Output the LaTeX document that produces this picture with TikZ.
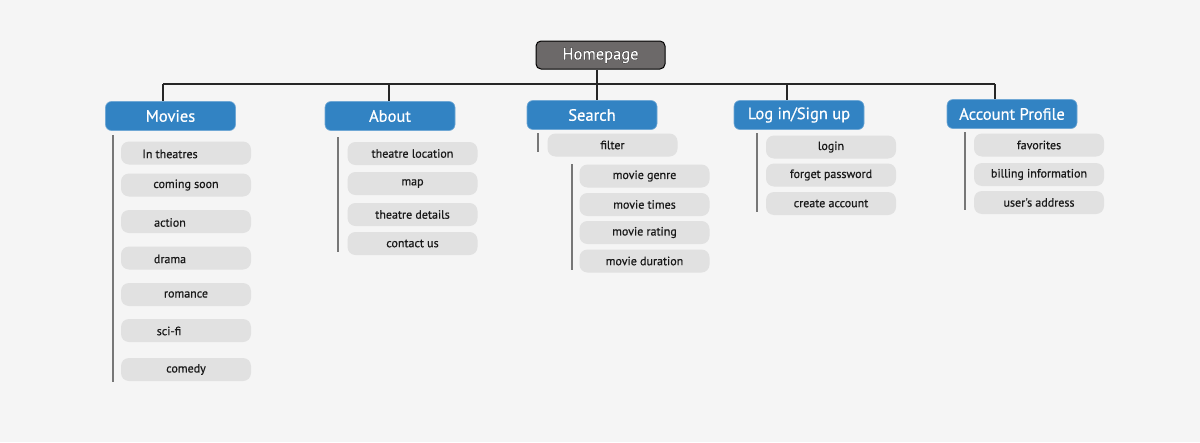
\documentclass[tikz,border=0pt]{standalone}
\usepackage{fontspec}
\setmainfont{PT Sans}
\newfontfamily\heavy[FakeBold=0.6]{PT Sans}
\newfontfamily\outl[FakeBold=4]{PT Sans}
\newfontfamily\homefont[FakeBold=0.8]{PT Sans}
\definecolor{bg}{HTML}{F5F5F5}
\definecolor{blueb}{HTML}{3283C3}
\definecolor{itemg}{HTML}{E1E1E1}
\definecolor{homeg}{HTML}{6C6969}
\definecolor{barg}{HTML}{777777}
\begin{document}
\begin{tikzpicture}[x=1pt,y=-1pt,
  home/.style={draw=black,line width=1pt,fill=homeg,rounded corners=5pt,minimum width=129pt,minimum height=28pt,inner sep=0pt},
  hometxt/.style={inner sep=0pt,font=\fontsize{16.5}{16}\selectfont},
  cat/.style={draw=blueb!70!white,line width=0.6pt,fill=blueb,rounded corners=6pt,minimum width=130pt,minimum height=29pt,inner sep=0pt,text=white,font=\heavy\fontsize{16.5}{16}\selectfont},
  item/.style={fill=itemg,rounded corners=8pt,minimum width=130pt,minimum height=23pt,inner sep=0pt,text=black!90,font=\heavy\fontsize{12}{12}\selectfont},
  txt/.style={inner sep=0pt,text=black!90,font=\heavy\fontsize{12}{12}\selectfont},
  tree/.style={line width=1.3pt,black!85},
  bar/.style={line width=1.8pt,barg}]
\useasboundingbox[fill=bg] (0,0) rectangle (1200,442);
% homepage and categories
\node[home] (home) at (600.5,55) {};
\node[hometxt,text=black] (homeo) at (600.5,55.5) {\outl Homepage};
\node[hometxt,text=white] (homet) at (600.5,55.5) {\homefont Homepage};
\node[cat] (movies) at (170.5,116) {Movies};
\node[cat] (about) at (390,116) {About};
\node[cat] (search) at (592,115) {Search};
\node[cat] (login) at (799,115) {Log in/Sign up};
\node[cat] (account) at (1012,114) {Account Profile};
\coordinate (hl) at (163,84);
\coordinate (hr) at (995,84);
\draw[tree] (home.south -| 597,0) -- (597,84);
\draw[tree] (hl) -- (hr);
\draw[tree] (hl) -- (movies.north -| hl);
\draw[tree] (389,84) -- (about.north -| 389,0);
\draw[tree] (597,84) -- (search.north -| 597,0);
\draw[tree] (787,84) -- (login.north -| 787,0);
\draw[tree] (hr) -- (account.north -| hr);
% movies
\node[item] (m1) at (186,153) {};
\node[txt] (m1t) at (170,154) {In theatres};
\node[item] (m2) at (186,185) {coming soon};
\node[item] (m3) at (186,221.5) {};
\node[txt] (m3t) at (170,222.5) {action};
\node[item] (m4) at (186,258) {};
\node[txt] (m4t) at (170,259) {drama};
\node[item] (m5) at (186,294.5) {romance};
\node[item] (m6) at (186,330.5) {};
\node[txt] (m6t) at (169,331) {sci-fi};
\node[item] (m7) at (186,369.5) {comedy};
\coordinate (mb1) at (113,135);
\coordinate (mb2) at (113,382);
\draw[bar] (mb1) -- (mb2);
% about
\node[item] (a1) at (412.5,153.5) {theatre location};
\node[item] (a2) at (412.5,183.5) {map};
\node[item] (a3) at (412.5,214.5) {theatre details};
\node[item] (a4) at (412.5,243.5) {contact us};
\coordinate (ab1) at (338,137);
\coordinate (ab2) at (338,252);
\draw[bar] (ab1) -- (ab2);
% search
\node[item] (s0) at (612.5,145) {filter};
\coordinate (sb1) at (538,133);
\coordinate (sb2) at (538,152);
\draw[bar] (sb1) -- (sb2);
\node[item] (s1) at (644.5,176) {movie genre};
\node[item] (s2) at (644.5,204.5) {movie times};
\node[item] (s3) at (644.5,232.5) {movie rating};
\node[item] (s4) at (644.5,261) {movie duration};
\coordinate (sc1) at (572,164);
\coordinate (sc2) at (572,270);
\draw[bar] (sc1) -- (sc2);
% login
\node[item] (l1) at (831,147) {login};
\node[item] (l2) at (831,175) {forget password};
\node[item] (l3) at (831,203.5) {create account};
\coordinate (lb1) at (757,133);
\coordinate (lb2) at (757,212);
\draw[bar] (lb1) -- (lb2);
% account
\node[item] (p1) at (1039,145) {favorites};
\node[item] (p2) at (1039,174.5) {billing information};
\node[item] (p3) at (1039,202.5) {user's address};
\coordinate (pb1) at (965,132);
\coordinate (pb2) at (965,210);
\draw[bar] (pb1) -- (pb2);
\end{tikzpicture}
\end{document}
